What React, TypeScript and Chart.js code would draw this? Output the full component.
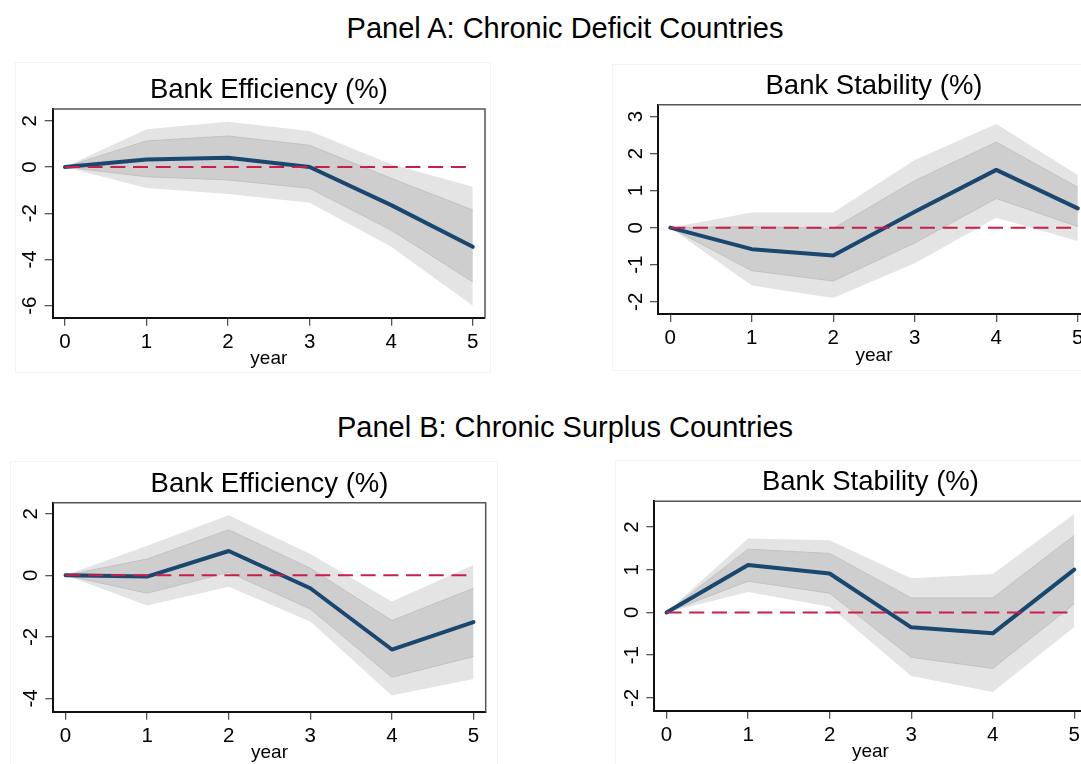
import { useEffect, useRef } from "react";
import { Chart, registerables } from "chart.js";

Chart.register(...registerables);

// Horizon (years after onset)
const years = [0, 1, 2, 3, 4, 5];
const xTicks = [0, 1, 2, 3, 4, 5];
const zeroLine = [0, 0, 0, 0, 0, 0];

// Panel A: chronic deficit countries — bank efficiency
const defEffEst = [0, 0.33, 0.4, 0, -1.65, -3.45];
const defEffInnerLo = [0, -0.42, -0.56, -0.92, -2.73, -4.97];
const defEffInnerHi = [0, 1.13, 1.34, 0.94, -0.49, -1.86];
const defEffOuterLo = [0, -0.91, -1.17, -1.55, -3.45, -6.0];
const defEffOuterHi = [0, 1.63, 1.96, 1.56, 0.12, -0.85];
const defEffTicks = [2, 0, -2, -4, -6];

// Panel A: chronic deficit countries — bank stability
const defStabEst = [0, -0.58, -0.75, 0.43, 1.56, 0.52];
const defStabInnerLo = [0, -1.16, -1.44, -0.41, 0.79, 0.03];
const defStabInnerHi = [0, 0.03, -0.02, 1.27, 2.31, 1.09];
const defStabOuterLo = [0, -1.56, -1.9, -0.96, 0.27, -0.36];
const defStabOuterHi = [0, 0.41, 0.41, 1.83, 2.8, 1.42];
const defStabTicks = [3, 2, 1, 0, -1, -2];

// Panel B: chronic surplus countries — bank efficiency
const surEffEst = [0, -0.04, 0.79, -0.42, -2.41, -1.52];
const surEffInnerLo = [0, -0.58, 0.1, -1.09, -3.31, -2.64];
const surEffInnerHi = [0, 0.53, 1.48, 0.23, -1.47, -0.42];
const surEffOuterLo = [0, -0.98, -0.37, -1.5, -3.9, -3.37];
const surEffOuterHi = [0, 0.96, 1.95, 0.69, -0.85, 0.34];
const surEffTicks = [2, 0, -2, -4];

// Panel B: chronic surplus countries — bank stability
const surStabEst = [0, 1.11, 0.91, -0.35, -0.49, 1.0];
const surStabInnerLo = [0, 0.73, 0.45, -1.05, -1.31, 0.2];
const surStabInnerHi = [0, 1.48, 1.38, 0.34, 0.34, 1.8];
const surStabOuterLo = [0, 0.48, 0.13, -1.49, -1.86, -0.34];
const surStabOuterHi = [0, 1.73, 1.69, 0.8, 0.9, 2.3];
const surStabTicks = [2, 1, 0, -1, -2];

const FONT = "'Liberation Sans', Arial, Helvetica, sans-serif";
const NAVY = "#1a476f";
const RED = "#c81e4b";
const OUTER = "#e4e4e4";
const INNER = "#cecece";
const INNER_EDGE = "#c2c2c2";
const TICK = "#555555";

type Box = { left: number; top: number; width: number; height: number };
type Plot = { left: number; top: number; right: number; bottom: number };

type PanelProps = {
  title: string;
  est: number[];
  innerLo: number[];
  innerHi: number[];
  outerLo: number[];
  outerHi: number[];
  yTicks: number[];
  yMin: number;
  yMax: number;
  box: Box;
  plot: Plot;
};

function IrfPanel(props: PanelProps) {
  const ref = useRef<HTMLCanvasElement | null>(null);

  useEffect(() => {
    const canvas = ref.current;
    if (!canvas) return;
    const { box, plot } = props;
    const padTop = plot.top - box.top;
    const padRight = box.left + box.width - plot.right;
    const yAxisWidth = plot.left - box.left;
    const xAxisHeight = box.top + box.height - plot.bottom;
    const pts = (arr: number[]) => years.map((x, i) => ({ x, y: arr[i] }));

    const decor = {
      id: "decor",
      afterDraw(chart: any) {
        const ctx = chart.ctx as CanvasRenderingContext2D;
        const ca = chart.chartArea;
        const xs = chart.scales.x;
        const ys = chart.scales.y;
        ctx.save();
        // top and right frame of the plot region
        ctx.strokeStyle = "#555";
        ctx.lineWidth = 1.5;
        ctx.beginPath();
        ctx.moveTo(ca.left, ca.top);
        ctx.lineTo(ca.right, ca.top);
        ctx.lineTo(ca.right, ca.bottom);
        ctx.stroke();

        ctx.fillStyle = "#000";
        // panel title
        ctx.font = `27.5px ${FONT}`;
        ctx.textAlign = "center";
        ctx.textBaseline = "alphabetic";
        ctx.fillText(props.title, (ca.left + ca.right) / 2, ca.top - 11);

        // x tick labels
        ctx.font = `20.5px ${FONT}`;
        xTicks.forEach((v) => {
          ctx.fillText(String(v), xs.getPixelForValue(v), ca.bottom + 30);
        });
        // x axis title
        ctx.font = `19px ${FONT}`;
        ctx.fillText("year", (ca.left + ca.right) / 2, ca.bottom + 46.5);

        // y tick labels, rotated
        ctx.font = `20.5px ${FONT}`;
        props.yTicks.forEach((v) => {
          ctx.save();
          ctx.translate(ca.left - 16.3, ys.getPixelForValue(v));
          ctx.rotate(-Math.PI / 2);
          ctx.textAlign = "center";
          ctx.textBaseline = "alphabetic";
          ctx.fillText(String(v), 0, 0);
          ctx.restore();
        });
        ctx.restore();
      },
    };

    const chart = new Chart(canvas, {
      type: "line",
      data: {
        datasets: [
          {
            data: pts(props.outerLo),
            borderWidth: 0,
            borderColor: "rgba(0,0,0,0)",
            pointRadius: 0,
            fill: false,
            order: 5,
          },
          {
            data: pts(props.outerHi),
            borderWidth: 0,
            borderColor: "rgba(0,0,0,0)",
            pointRadius: 0,
            fill: "-1",
            backgroundColor: OUTER,
            order: 5,
          },
          {
            data: pts(props.innerLo),
            borderWidth: 1,
            borderColor: INNER_EDGE,
            pointRadius: 0,
            fill: false,
            order: 4,
          },
          {
            data: pts(props.innerHi),
            borderWidth: 1,
            borderColor: INNER_EDGE,
            pointRadius: 0,
            fill: "-1",
            backgroundColor: INNER,
            order: 4,
          },
          {
            data: pts(zeroLine),
            borderWidth: 2,
            borderColor: RED,
            borderDash: [15, 7.7],
            pointRadius: 0,
            fill: false,
            order: 1,
          },
          {
            data: pts(props.est),
            borderWidth: 4,
            borderColor: NAVY,
            borderCapStyle: "round",
            borderJoinStyle: "round",
            pointRadius: 0,
            fill: false,
            order: 2,
          },
        ],
      } as any,
      options: {
        responsive: false,
        animation: false,
        devicePixelRatio: 1,
        events: [],
        layout: { padding: { top: padTop, right: padRight, left: 0, bottom: 0 } },
        plugins: {
          legend: { display: false },
          tooltip: { enabled: false },
          title: { display: false },
        },
        scales: {
          x: {
            type: "linear",
            min: -0.15,
            max: 5.15,
            afterBuildTicks: (s: any) => {
              s.ticks = xTicks.map((v) => ({ value: v }));
            },
            afterFit: (s: any) => {
              s.height = xAxisHeight;
            },
            ticks: { display: false },
            grid: { drawOnChartArea: false, drawTicks: true, tickLength: 8, color: TICK, lineWidth: 1.3 },
            border: { display: true, color: "#111", width: 2 },
          },
          y: {
            type: "linear",
            min: props.yMin,
            max: props.yMax,
            afterBuildTicks: (s: any) => {
              s.ticks = props.yTicks.map((v) => ({ value: v }));
            },
            afterFit: (s: any) => {
              s.width = yAxisWidth;
            },
            ticks: { display: false },
            grid: { drawOnChartArea: false, drawTicks: true, tickLength: 8, color: TICK, lineWidth: 1.3 },
            border: { display: true, color: "#111", width: 2 },
          },
        },
      } as any,
      plugins: [decor],
    });
    return () => chart.destroy();
  }, []);

  const { box } = props;
  return (
    <div
      style={{
        position: "absolute",
        left: box.left - 1,
        top: box.top - 1,
        border: "1px solid #f3f4f4",
        background: "#fff",
      }}
    >
      <canvas ref={ref} width={box.width} height={box.height} style={{ display: "block" }} />
    </div>
  );
}

const headingStyle = (top: number): React.CSSProperties => ({
  position: "absolute",
  left: 0,
  top,
  width: 1130,
  textAlign: "center",
  fontFamily: FONT,
  fontSize: 29,
  lineHeight: "29px",
  color: "#000",
  whiteSpace: "nowrap",
});

export default function App() {
  return (
    <div
      style={{
        position: "fixed",
        left: 0,
        top: 0,
        width: 1081,
        height: 764,
        overflow: "hidden",
        background: "#fff",
      }}
    >
      <div style={headingStyle(14)}>Panel A: Chronic Deficit Countries</div>
      <div style={headingStyle(412.5)}>Panel B: Chronic Surplus Countries</div>

      <IrfPanel
        title="Bank Efficiency (%)"
        est={defEffEst}
        innerLo={defEffInnerLo}
        innerHi={defEffInnerHi}
        outerLo={defEffOuterLo}
        outerHi={defEffOuterHi}
        yTicks={defEffTicks}
        yMin={-6.52}
        yMax={2.51}
        box={{ left: 16, top: 63, width: 474, height: 309 }}
        plot={{ left: 52.7, top: 109, right: 485, bottom: 317.7 }}
      />
      <IrfPanel
        title="Bank Stability (%)"
        est={defStabEst}
        innerLo={defStabInnerLo}
        innerHi={defStabInnerHi}
        outerLo={defStabOuterLo}
        outerHi={defStabOuterHi}
        yTicks={defStabTicks}
        yMin={-2.33}
        yMax={3.32}
        box={{ left: 613, top: 65, width: 482, height: 305 }}
        plot={{ left: 658, top: 104.7, right: 1090, bottom: 314 }}
      />
      <IrfPanel
        title="Bank Efficiency (%)"
        est={surEffEst}
        innerLo={surEffInnerLo}
        innerHi={surEffInnerHi}
        outerLo={surEffOuterLo}
        outerHi={surEffOuterHi}
        yTicks={surEffTicks}
        yMin={-4.43}
        yMax={2.36}
        box={{ left: 11, top: 462, width: 486, height: 306 }}
        plot={{ left: 53.3, top: 502.7, right: 485.7, bottom: 711.7 }}
      />
      <IrfPanel
        title="Bank Stability (%)"
        est={surStabEst}
        innerLo={surStabInnerLo}
        innerHi={surStabInnerHi}
        outerLo={surStabOuterLo}
        outerHi={surStabOuterHi}
        yTicks={surStabTicks}
        yMin={-2.3}
        yMax={2.6}
        box={{ left: 616, top: 461, width: 480, height: 307 }}
        plot={{ left: 654.3, top: 501.3, right: 1086.5, bottom: 710.7 }}
      />
    </div>
  );
}
